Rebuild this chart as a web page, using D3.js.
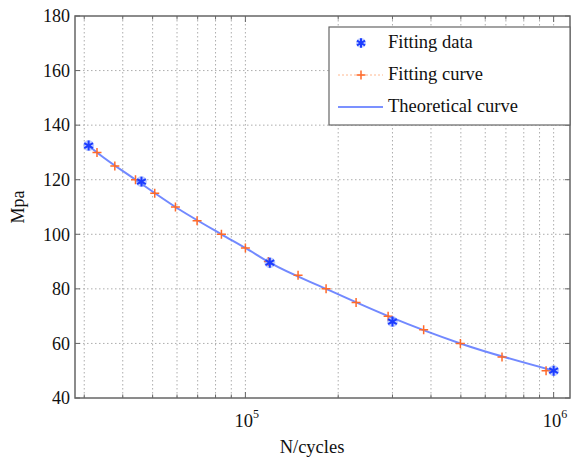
<!DOCTYPE html>
<html lang='en'>
<head>
<meta charset='utf-8'>
<title>S-N curve</title>
<script src='https://d3js.org/d3.v7.min.js'></script>
<style>
  body { margin: 0; background: #fff; }
  svg text { font-family: 'Liberation Serif', 'Times New Roman', serif; fill: #111; }
</style>
</head>
<body>
<script>
// data
var dataN = [31000, 46000, 120000, 300000, 1000000];
var dataS = [132.5, 119.3, 89.6, 68, 50];

var fitN = [33000, 37700, 44000, 50800, 59300, 69700, 83600, 100000, 118700, 148200,
            182700, 228600, 290400, 378700, 498200, 680000, 945000];
var fitS = [130, 125, 120, 115, 110, 105, 100, 95, 90, 85, 80, 75, 70, 65, 60, 55, 50];

var theoN = [31000, 33000, 44000, 59300, 83600, 100000, 120000, 182700, 290400, 498200, 1000000];
var theoS = [132.5, 130, 120, 110, 100, 95, 89.6, 80, 70, 60, 50];

var yTicks = [40, 60, 80, 100, 120, 140, 160, 180];
var xGrid = [3e4, 4e4, 5e4, 6e4, 7e4, 8e4, 9e4, 1e5, 2e5, 3e5, 4e5, 5e5, 6e5, 7e5, 8e5, 9e5, 1e6];
var xMajor = [1e5, 1e6];
var legendLabels = ['Fitting data', 'Fitting curve', 'Theoretical curve'];

var w = 576, h = 460;
var pL = 75, pR = 570, pT = 16, pB = 398;

var svg = d3.select('body').append('svg')
  .attr('width', w)
  .attr('height', h);

var x = d3.scaleLog().domain([2.8e4, 1.13e6]).range([pL, pR]);
var y = d3.scaleLinear().domain([40, 180]).range([pB, pT]);

// grid
var grid = svg.append('g').attr('stroke', '#9a9a9a').attr('stroke-width', 1)
  .attr('stroke-dasharray', '1.5,2.5').attr('opacity', 0.8);
grid.selectAll('.gx').data(xGrid).enter().append('line')
  .attr('x1', function(d) { return x(d); }).attr('x2', function(d) { return x(d); })
  .attr('y1', pT).attr('y2', pB);
grid.selectAll('.gy').data(yTicks.slice(1, -1)).enter().append('line')
  .attr('y1', function(d) { return y(d); }).attr('y2', function(d) { return y(d); })
  .attr('x1', pL).attr('x2', pR);

// frame + inward ticks
var frame = svg.append('g').attr('stroke', '#666').attr('fill', 'none');
frame.append('rect').attr('x', pL).attr('y', pT)
  .attr('width', pR - pL).attr('height', pB - pT).attr('stroke-width', 1.5);
xGrid.forEach(function(d) {
  var len = xMajor.indexOf(d) >= 0 ? 6 : 3.5;
  frame.append('line').attr('x1', x(d)).attr('x2', x(d)).attr('y1', pB).attr('y2', pB - len);
  frame.append('line').attr('x1', x(d)).attr('x2', x(d)).attr('y1', pT).attr('y2', pT + len);
});
yTicks.forEach(function(d) {
  frame.append('line').attr('y1', y(d)).attr('y2', y(d)).attr('x1', pL).attr('x2', pL + 5);
  frame.append('line').attr('y1', y(d)).attr('y2', y(d)).attr('x1', pR).attr('x2', pR - 5);
});

// y tick labels
svg.selectAll('.yl').data(yTicks).enter().append('text')
  .attr('x', pL - 5).attr('y', function(d) { return y(d); })
  .attr('dy', '0.35em').attr('text-anchor', 'end')
  .style('font-size', '18px')
  .text(function(d) { return d; });

// x tick labels (powers of ten)
xMajor.forEach(function(d) {
  var t = svg.append('text').attr('x', x(d) - 11).attr('y', 427).style('font-size', '18.5px');
  t.append('tspan').text('10');
  t.append('tspan').attr('dy', -9).style('font-size', '12px').text(Math.round(Math.log10(d)));
});

// axis titles
svg.append('text').attr('x', 312).attr('y', 453).attr('text-anchor', 'middle')
  .style('font-size', '18.5px').text('N/cycles');
svg.append('text').attr('transform', 'translate(24,' + ((pT + pB) / 2) + ') rotate(-90)')
  .attr('text-anchor', 'middle').style('font-size', '18px').text('Mpa');

// theoretical curve
var theo = theoN.map(function(d, i) { return [d, theoS[i]]; });
var line = d3.line().x(function(d) { return x(d[0]); }).y(function(d) { return y(d[1]); })
  .curve(d3.curveMonotoneX);
svg.append('path').datum(theo).attr('d', line)
  .attr('fill', 'none').attr('stroke', '#4f6cff').attr('stroke-width', 2).attr('opacity', 0.8);

// fitting curve markers
var fit = fitN.map(function(d, i) { return [d, fitS[i]]; });
svg.selectAll('.fp').data(fit).enter().append('path')
  .attr('transform', function(d) { return 'translate(' + x(d[0]) + ',' + y(d[1]) + ')'; })
  .attr('d', 'M-4.5,0H4.5M0,-4.5V4.5')
  .attr('stroke', '#ff6a2a').attr('stroke-width', 1.5).attr('fill', 'none');

// fitting data stars
var data = dataN.map(function(d, i) { return [d, dataS[i]]; });
var stars = svg.selectAll('.st').data(data).enter().append('g')
  .attr('transform', function(d) { return 'translate(' + x(d[0]) + ',' + y(d[1]) + ')'; });
stars.append('circle').attr('r', 5.5).attr('fill', '#6f8dff').attr('opacity', 0.45);
stars.append('path').attr('d', d3.symbol().type(d3.symbolAsterisk).size(70)())
  .attr('stroke', '#1c3cff').attr('stroke-width', 2).attr('fill', 'none');

// legend
var lg = svg.append('g');
lg.append('rect').attr('x', 329).attr('y', 27).attr('width', 241).attr('height', 98)
  .attr('fill', '#fff').attr('stroke', '#666').attr('stroke-width', 1.2);
var rowsY = [43, 75, 107];
var baseY = [48, 80, 112];
legendLabels.forEach(function(lbl, i) {
  lg.append('text').attr('x', 388).attr('y', baseY[i])
    .style('font-size', '18.5px').text(lbl);
});
var s0 = lg.append('g').attr('transform', 'translate(361,' + rowsY[0] + ')');
s0.append('circle').attr('r', 5).attr('fill', '#6f8dff').attr('opacity', 0.45);
s0.append('path').attr('d', d3.symbol().type(d3.symbolAsterisk).size(60)())
  .attr('stroke', '#1c3cff').attr('stroke-width', 2).attr('fill', 'none');
lg.append('line').attr('x1', 338).attr('x2', 383).attr('y1', rowsY[1]).attr('y2', rowsY[1])
  .attr('stroke', '#ffb890').attr('stroke-width', 1).attr('stroke-dasharray', '2,2');
lg.append('path').attr('transform', 'translate(361,' + rowsY[1] + ')')
  .attr('d', 'M-4.5,0H4.5M0,-4.5V4.5').attr('stroke', '#ff6a2a').attr('stroke-width', 1.5);
lg.append('line').attr('x1', 338).attr('x2', 383).attr('y1', rowsY[2]).attr('y2', rowsY[2])
  .attr('stroke', '#4f6cff').attr('stroke-width', 1.5);
</script>
</body>
</html>
